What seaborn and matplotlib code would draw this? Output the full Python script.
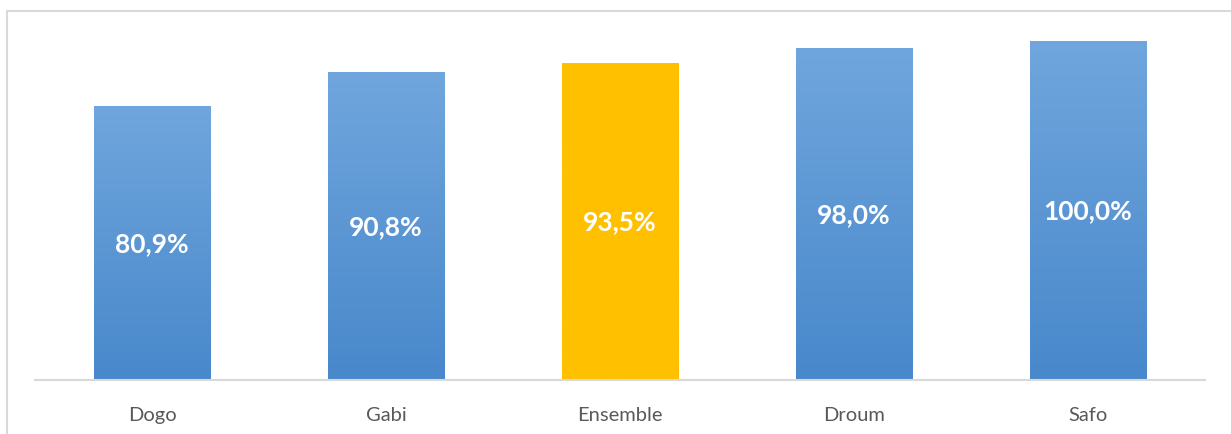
import numpy as np
import pandas as pd
import matplotlib
matplotlib.use("Agg")
import matplotlib.pyplot as plt
import matplotlib.patches as mpatches
import seaborn as sns
from matplotlib.colors import LinearSegmentedColormap

categories = ["Dogo", "Gabi", "Ensemble", "Droum", "Safo"]
values = [80.9, 90.8, 93.5, 98.0, 100.0]
labels = ["80,9%", "90,8%", "93,5%", "98,0%", "100,0%"]
highlight = ["no", "no", "yes", "no", "no"]

df = pd.DataFrame({"cat": categories, "val": values, "hl": highlight})

sns.set_theme(style="white")
plt.rcParams["font.family"] = ["Lato", "DejaVu Sans"]

W, H = 1231, 435
fig = plt.figure(figsize=(W / 100, H / 100), dpi=100)
ax = fig.add_axes([35 / W, (H - 381) / H, (1205 - 35) / W, (381 - 21) / H])

palette = {"no": "#5B9BD5", "yes": "#FFC000"}
sns.barplot(data=df, x="cat", y="val", hue="hl", palette=palette, width=0.5,
            dodge=False, legend=False, ax=ax, saturation=1)

ymax = 360 / 339 * 100
grads = {"no": ("#70A6DD", "#4888CB"), "yes": ("#FFC000", "#FFC000")}
for p in ax.patches:
    x0, y0 = p.get_x(), p.get_y()
    w, h = p.get_width(), p.get_height()
    fc = matplotlib.colors.to_hex(p.get_facecolor())
    key = "yes" if fc.lower() == "#ffc000" else "no"
    cmap = LinearSegmentedColormap.from_list("g", [grads[key][1], grads[key][0]])
    grad = np.linspace(0, 1, 256).reshape(-1, 1)
    im = ax.imshow(grad, extent=[x0, x0 + w, y0, y0 + h], origin="lower",
                   aspect="auto", cmap=cmap, zorder=p.get_zorder() + 0.1)
    im.set_clip_path(p)
ax.set_xlim(-0.5, len(categories) - 0.5)
ax.set_ylim(0, ymax)

for i, (v, lab) in enumerate(zip(values, labels)):
    ax.text(i, v / 2, lab, ha="center", va="center", color="white",
            fontsize=19, fontweight="bold", zorder=10)

ax.set_xlabel("")
ax.set_ylabel("")
ax.set_yticks([])
ax.tick_params(axis="x", length=0, labelsize=14.5, colors="#595959", pad=19)
for s in ["top", "right", "left"]:
    ax.spines[s].set_visible(False)
ax.spines["bottom"].set_color("#D9D9D9")
ax.spines["bottom"].set_linewidth(1.5)

frame = mpatches.Rectangle((7 / W, -0.5), 3.0, (H - 12) / H + 0.5,
                           transform=fig.transFigure, fill=False,
                           edgecolor="#D9D9D9", linewidth=1.5)
fig.patches.append(frame)

fig.savefig("out.png", dpi=100)
